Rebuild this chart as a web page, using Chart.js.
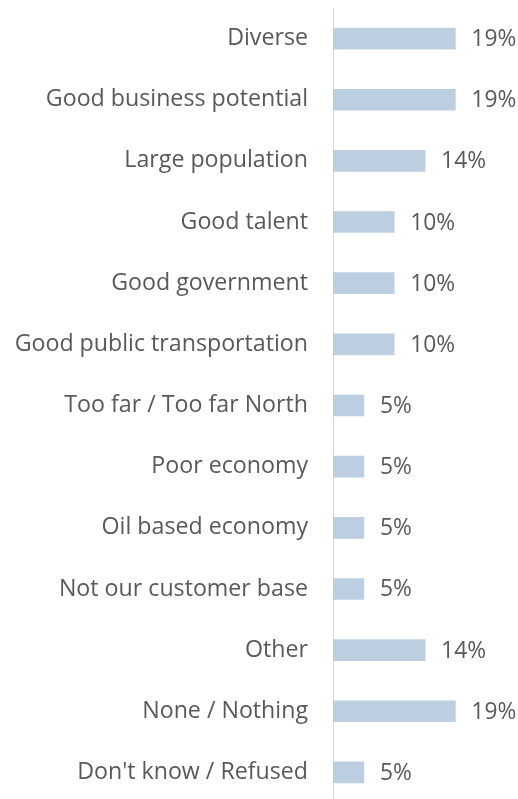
<!DOCTYPE html>
<html>
<head>
<meta charset="utf-8">
<script src="https://cdn.jsdelivr.net/npm/chart.js@4"></script>
<style>
  html, body { margin: 0; padding: 0; background: #fff; overflow: hidden; }
  #wrap { width: 518px; height: 803px; position: relative; }
</style>
</head>
<body>
<div id="wrap"><canvas id="chart"></canvas></div>
<script>
// Reasons / perceptions, share of respondents (%)
const categories = [
  "Diverse",
  "Good business potential",
  "Large population",
  "Good talent",
  "Good government",
  "Good public transportation",
  "Too far / Too far North",
  "Poor economy",
  "Oil based economy",
  "Not our customer base",
  "Other",
  "None / Nothing",
  "Don't know / Refused",
];
const shares = [19.0, 19.0, 14.3, 9.5, 9.5, 9.5, 4.8, 4.8, 4.8, 4.8, 14.3, 19.0, 4.8];

const FONT = "'Open Sans', sans-serif";
const TEXT = "#595959";

// Draw the percentage just past the end of each bar
const valueLabels = {
  id: "valueLabels",
  afterDatasetsDraw(chart) {
    const ctx = chart.ctx;
    const meta = chart.getDatasetMeta(0);
    ctx.save();
    ctx.font = "22.8px " + FONT;
    ctx.fillStyle = TEXT;
    ctx.textAlign = "left";
    ctx.textBaseline = "middle";
    meta.data.forEach((bar, i) => {
      ctx.fillText(Math.round(shares[i]) + "%", bar.x + 16, bar.y + 1);
    });
    ctx.restore();
  },
};

new Chart(document.getElementById("chart"), {
  type: "bar",
  data: {
    labels: categories,
    datasets: [
      {
        data: shares,
        backgroundColor: "#BCCFE0",
        barThickness: 21,
      },
    ],
  },
  options: {
    indexAxis: "y",
    responsive: true,
    maintainAspectRatio: false,
    animation: false,
    layout: { padding: { top: 8, right: 24, bottom: 0, left: 0 } },
    scales: {
      x: {
        display: false,
        min: 0,
        max: 25,
      },
      y: {
        grid: { display: false, drawTicks: false },
        border: { display: true, color: "#D9D9D9", width: 1 },
        ticks: {
          color: TEXT,
          font: { family: FONT, size: 23.2 },
          padding: 25,
        },
        afterFit: (scale) => {
          scale.width = 333;
          // labels sit inside their rows, no extra room needed above/below
          scale.paddingTop = 0;
          scale.paddingBottom = 0;
        },
      },
    },
    plugins: {
      legend: { display: false },
      tooltip: { enabled: false },
    },
  },
  plugins: [valueLabels],
});
</script>
</body>
</html>
